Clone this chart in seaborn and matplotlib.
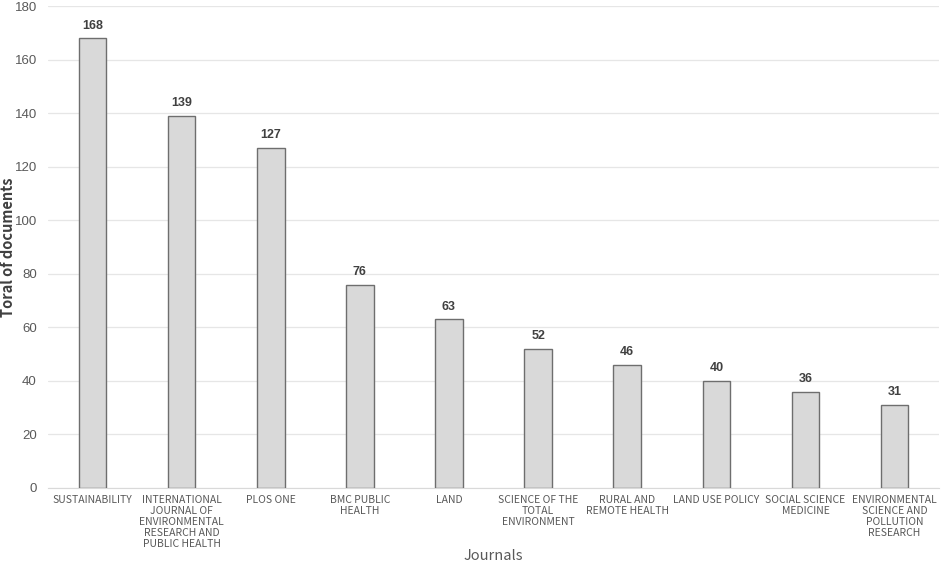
import matplotlib
matplotlib.use("Agg")
import matplotlib.pyplot as plt
import seaborn as sns
import pandas as pd

journals = [
    "SUSTAINABILITY",
    "INTERNATIONAL\nJOURNAL OF\nENVIRONMENTAL\nRESEARCH AND\nPUBLIC HEALTH",
    "PLOS ONE",
    "BMC PUBLIC\nHEALTH",
    "LAND",
    "SCIENCE OF THE\nTOTAL\nENVIRONMENT",
    "RURAL AND\nREMOTE HEALTH",
    "LAND USE POLICY",
    "SOCIAL SCIENCE\nMEDICINE",
    "ENVIRONMENTAL\nSCIENCE AND\nPOLLUTION\nRESEARCH",
]
documents = [168, 139, 127, 76, 63, 52, 46, 40, 36, 31]
y_ticks = [0, 20, 40, 60, 80, 100, 120, 140, 160, 180]

df = pd.DataFrame({"journal": journals, "docs": documents})

sns.set_style("white")
plt.rcParams["font.family"] = ["Noto Sans CJK SC", "DejaVu Sans"]

fig = plt.figure(figsize=(9.41, 5.66), dpi=100)
ax = fig.add_axes([0.051, 0.138, 0.947, 0.851])

sns.barplot(data=df, x="journal", y="docs", color="#d9d9d9", width=0.31,
            edgecolor="#6e6e6e", linewidth=1.0, saturation=1, ax=ax, zorder=3)

for i, v in enumerate(documents):
    ax.text(i, v + 2.5, str(v), ha="center", va="bottom", fontsize=9,
            fontweight="bold", color="#404040", family="Liberation Sans")

ax.set_ylim(0, 180)
ax.set_yticks(y_ticks)
ax.yaxis.grid(True, color="#e6e6e6", linewidth=0.9, zorder=0)
for s in ["top", "right", "left"]:
    ax.spines[s].set_visible(False)
ax.spines["bottom"].set_color("#d9d9d9")
ax.tick_params(axis="both", length=0, colors="#595959")
ax.tick_params(axis="y", labelsize=9.5, pad=8)
ax.tick_params(axis="x", labelsize=7.5, pad=5)
for lab in ax.get_xticklabels():
    lab.set_linespacing(1.12)
    lab.set_fontweight("medium")
for lab in ax.get_yticklabels():
    lab.set_family("Liberation Sans")

ax.set_xlabel("Journals", fontsize=10.5, color="#595959")
ax.xaxis.set_label_coords(0.5, -0.127)
ax.set_ylabel("Toral of documents", fontsize=10.5, fontweight="bold",
              color="#404040")
ax.yaxis.set_label_coords(-0.036, 0.5)

fig.savefig("out.png", dpi=100)
